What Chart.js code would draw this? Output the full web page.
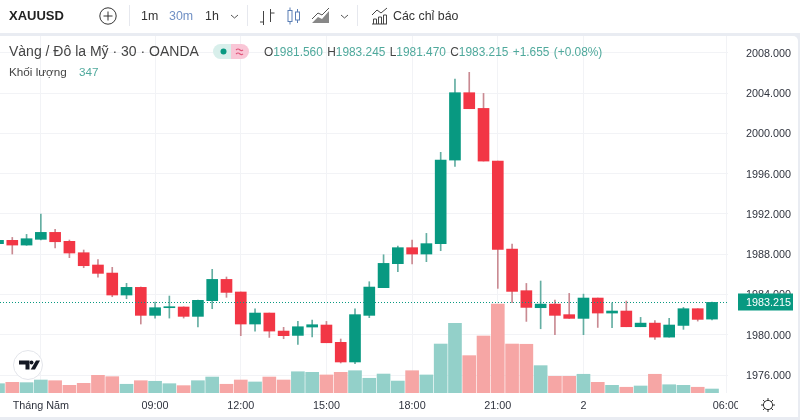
<!DOCTYPE html>
<html>
<head>
<meta charset="utf-8">
<script src="https://cdn.jsdelivr.net/npm/chart.js@4/dist/chart.umd.min.js"></script>
<style>
  html, body { margin: 0; padding: 0; width: 800px; height: 420px; overflow: hidden; background: #e9ecf2; font-family: "Liberation Sans", sans-serif; color: #333; }
  #toolbar { position: absolute; left: 0; top: 0; width: 800px; height: 33px; background: #fff; }
  #card { position: absolute; left: 0; top: 36px; width: 798px; height: 381px; background: #fff; border-radius: 0 5px 5px 0; }
  canvas { position: absolute; left: 0; top: 0; }
  .t { position: absolute; white-space: nowrap; line-height: 16px; }
  .sep { position: absolute; top: 5px; width: 1px; height: 21px; background: #e6e8ee; }
  svg { position: absolute; overflow: visible; }
  .g { color: #4fa99c; }
  #corner { position: absolute; left: 738px; top: 394px; width: 60px; height: 23px; background: #fff; }
</style>
</head>
<body>
<div id="toolbar"></div>
<div id="card"></div>
<canvas id="chart" width="800" height="420"></canvas>
<div id="corner"></div>

<!-- toolbar -->
<div class="t" style="left:9px;top:8px;font-size:13px;font-weight:bold;color:#222">XAUUSD</div>
<svg style="left:99px;top:7px" width="18" height="18" fill="none" stroke="#333" stroke-width="1"><circle cx="9" cy="9" r="8.2"/><path d="M9 4.5v9M4.5 9h9"/></svg>
<div class="sep" style="left:129px"></div>
<div class="t" style="left:141px;top:8px;font-size:12.4px">1m</div>
<div class="t" style="left:169px;top:8px;font-size:12.4px;color:#6f8fc4">30m</div>
<div class="t" style="left:205px;top:8px;font-size:12.4px">1h</div>
<svg style="left:230px;top:14px" width="9" height="5" fill="none" stroke="#555"><path d="M1 1l3.5 3L8 1"/></svg>
<div class="sep" style="left:247px"></div>
<svg style="left:259px;top:8px" width="16" height="17" fill="none" stroke="#444"><path d="M4.5 3v14M1 14h3.5M11.5 1v13M11.5 5h4"/></svg>
<svg style="left:287px;top:7px" width="14" height="18" fill="none" stroke="#5b7fb5"><rect x="1" y="3.5" width="4" height="11"/><path d="M3 0.5v3M3 14.5v3M10.5 2v3M10.5 13v3"/><rect x="8.5" y="5" width="4" height="8"/></svg>
<svg style="left:312px;top:8px" width="18" height="16"><path d="M0 15L6 9l4 2 7-8v12z" fill="#888"/><path d="M0 11L6 5l4 2 7-7" fill="none" stroke="#555"/></svg>
<svg style="left:340px;top:14px" width="9" height="5" fill="none" stroke="#555"><path d="M1 1l3.5 3L8 1"/></svg>
<div class="sep" style="left:357px"></div>
<svg style="left:371px;top:7px" width="17" height="18" fill="none" stroke="#444"><path d="M1 17h15M2.5 17v-5h3v5M7.5 17v-7h3v7M12.5 17v-9h3v9M1 8l5-5 4 3 6-5"/></svg>
<div class="t" style="left:393px;top:8px;font-size:12.4px">Các chỉ báo</div>

<!-- legend -->
<div class="t" id="title" style="left:9px;top:43px;font-size:14px;color:#444"></div>
<svg style="left:213px;top:44px" width="36" height="15"><path d="M7.5 0H18V15H7.5a7.5 7.5 0 0 1 0-15z" fill="#d8efeb"/><path d="M18 0H28.5a7.5 7.5 0 0 1 0 15H18z" fill="#f9c6d6"/><circle cx="10.5" cy="7.5" r="3" fill="#089981"/><path d="M23 6c1.5-1.5 3-1 4 0s2 .8 3-.2M23 10c1.5-1.5 3-1 4 0s2 .8 3-.2" fill="none" stroke="#e0557a" stroke-width="1.1"/></svg>
<div class="t" id="ohlc" style="left:264px;top:44px;font-size:11.9px;color:#444;word-spacing:1px"></div>
<div class="t" style="left:9px;top:64px;font-size:11.7px;color:#444">Khối lượng</div>
<div class="t g" id="volNow" style="left:79px;top:64px;font-size:11.7px"></div>

<!-- logo and gear -->
<svg style="left:13px;top:350px" width="30" height="30"><circle cx="15" cy="15" r="14.5" fill="#fff" stroke="#e3e5ea"/><path d="M6 10.5h10.5v9H12.5v-5H6z" fill="#131722"/><circle cx="18.5" cy="12.6" r="2" fill="#131722"/><path d="M23 10.5h4l-5 9h-4.3z" fill="#131722"/></svg>
<svg style="left:760px;top:397px" width="16" height="16" fill="none" stroke="#333"><circle cx="8" cy="8" r="4.6"/><path d="M8 1v2.4M8 12.6V15M1 8h2.4M12.6 8H15M3 3l1.8 1.8M11.2 11.2L13 13M13 3l-1.8 1.8M4.8 11.2L3 13"/></svg>

<script>
const titleText = "Vàng / Đô la Mỹ · 30 · OANDA";
const volumeNow = 347;
const changeText = "+1.655 (+0.08%)";

// 30 minute candles
const opens = [1989.05,1989.38,1988.91,1989.48,1990.17,1989.28,1988.15,1986.93,1986.13,1983.95,1984.71,1981.93,1982.69,1982.76,1981.83,1983.39,1985.50,1984.25,1981.07,1982.16,1980.37,1979.94,1980.77,1980.97,1979.25,1977.30,1981.93,1984.68,1987.06,1988.65,1988.02,1989.05,1997.35,2004.04,2002.48,1997.25,1988.51,1984.38,1982.69,1983.05,1982.00,1981.63,1983.65,1982.16,1982.36,1980.80,1981.16,1979.77,1980.93,1982.59,1981.56];
const highs = [1989.50,1989.67,1989.97,1991.99,1990.47,1989.41,1988.42,1987.46,1986.70,1985.11,1984.75,1983.25,1983.85,1982.78,1983.44,1986.50,1985.74,1984.25,1982.59,1982.16,1980.74,1981.33,1981.46,1981.33,1979.58,1982.59,1985.27,1987.95,1988.81,1989.41,1990.07,1998.12,2005.40,2006.06,2003.97,1997.25,1989.01,1985.10,1985.34,1983.45,1984.11,1984.04,1983.65,1983.18,1983.35,1981.73,1981.40,1981.63,1982.72,1982.59,1983.245];
const lows = [1988.90,1988.02,1988.88,1989.41,1988.62,1987.66,1986.66,1985.73,1983.78,1983.58,1981.07,1981.66,1981.66,1981.66,1980.77,1982.59,1983.72,1979.91,1980.37,1979.74,1979.61,1979.05,1979.78,1979.21,1977.20,1977.13,1981.70,1984.68,1986.27,1987.03,1987.26,1988.35,1996.73,2002.45,1997.25,1984.61,1983.18,1981.33,1980.60,1980.01,1981.63,1980.01,1980.73,1980.70,1980.80,1980.80,1979.54,1979.77,1980.54,1981.36,1981.47];
const closes = [1989.38,1988.91,1989.54,1990.17,1989.24,1988.12,1986.86,1986.10,1983.95,1984.71,1981.93,1982.69,1982.79,1981.83,1983.42,1985.50,1984.21,1981.07,1982.16,1980.37,1979.91,1980.80,1981.00,1979.21,1977.30,1982.00,1984.74,1987.09,1988.65,1988.02,1989.05,1997.35,2004.04,2002.45,1997.25,1988.48,1984.31,1982.72,1983.05,1981.93,1981.63,1983.65,1982.16,1982.36,1980.80,1981.16,1979.77,1980.97,1982.59,1981.53,1983.215];
const volumes = [810,930,900,1130,1070,670,840,1540,1420,760,1070,1020,810,640,1070,1390,760,1130,960,1390,1130,1850,1800,1570,1800,1940,1280,1650,1040,1940,1570,4260,6060,3250,4960,7740,4260,4240,2380,1450,1450,1630,930,670,500,610,1630,720,670,500,347];

const priceTicks = [1976,1980,1984,1988,1992,1996,2000,2004,2008];
const timeTickBars = [3,11,17,23,29,35,41,51];
const timeTickLabels = ["Tháng Năm","09:00","12:00","15:00","18:00","21:00","2","06:00"];

const upColor = "#089981", downColor = "#f23645";
const upWick = "#64aea2", downWick = "#c98a92";
const upVol = "#93d0c9", downVol = "#f6a6a5";

const bars = opens.map((o, i) => i);
const isUp = i => closes[i] >= opens[i];
const last = closes.length - 1;

document.getElementById("title").textContent = titleText;
document.getElementById("volNow").textContent = volumeNow;
document.getElementById("ohlc").innerHTML =
  `O<span class="g">${opens[last].toFixed(3)}</span> H<span class="g">${highs[last].toFixed(3)}</span> ` +
  `L<span class="g">${lows[last].toFixed(3)}</span> C<span class="g">${closes[last].toFixed(3)}</span> <span class="g">${changeText}</span>`;

// dotted last price line and its tag on the price axis
const lastPricePlugin = {
  id: "lastPrice",
  afterDatasetsDraw(chart) {
    const { ctx, chartArea, scales } = chart;
    const y = Math.round(scales.y.getPixelForValue(closes[last])) + 0.5;
    ctx.save();
    ctx.strokeStyle = upColor;
    ctx.lineWidth = 1;
    ctx.setLineDash([1, 2]);
    ctx.beginPath();
    ctx.moveTo(chartArea.left, y);
    ctx.lineTo(chartArea.right, y);
    ctx.stroke();
    ctx.fillStyle = upColor;
    ctx.fillRect(chartArea.right + 10, y - 9, 55, 17);
    ctx.fillStyle = "#fff";
    ctx.font = "10.8px 'Liberation Sans'";
    ctx.textBaseline = "middle";
    ctx.fillText(closes[last].toFixed(3), chartArea.right + 18, y + 0.5);
    ctx.restore();
  }
};

new Chart(document.getElementById("chart").getContext("2d"), {
  type: "bar",
  data: {
    datasets: [
      {
        label: "Nến",
        data: bars.map(i => ({ x: i, y: [opens[i], closes[i]] })),
        backgroundColor: bars.map(i => isUp(i) ? upColor : downColor),
        barThickness: 11,
        yAxisID: "y",
        order: 1
      },
      {
        label: "Bấc",
        data: bars.map(i => ({ x: i, y: [lows[i], highs[i]] })),
        backgroundColor: bars.map(i => isUp(i) ? upWick : downWick),
        barThickness: 1,
        yAxisID: "y",
        order: 2
      },
      {
        label: "Khối lượng",
        data: bars.map(i => ({ x: i, y: volumes[i] })),
        backgroundColor: bars.map(i => isUp(i) ? upVol : downVol),
        barThickness: 13,
        yAxisID: "vol",
        order: 3
      }
    ]
  },
  options: {
    responsive: false,
    animation: false,
    grouped: false,
    layout: { padding: { top: 36, bottom: 5, left: 0, right: 0 } },
    plugins: { legend: { display: false }, tooltip: { enabled: false } },
    scales: {
      x: {
        type: "linear",
        offset: false,
        min: 0.14,
        max: 51.12,
        border: { display: false },
        grid: { offset: false, color: "#f2f3f6", drawTicks: false },
        afterBuildTicks: s => { s.ticks = timeTickBars.map(v => ({ value: v })); },
        afterFit: s => { s.height = 22; },
        ticks: {
          autoSkip: false,
          maxRotation: 0,
          padding: 7,
          color: "#2f333e",
          font: { family: "Liberation Sans", size: 10.8 },
          callback: v => timeTickLabels[timeTickBars.indexOf(v)]
        }
      },
      y: {
        position: "right",
        min: 1974.22,
        max: 2009.67,
        border: { display: false },
        grid: { color: "#f2f3f6", drawTicks: false },
        afterBuildTicks: s => { s.ticks = priceTicks.map(v => ({ value: v })); },
        afterFit: s => { s.width = 72; },
        ticks: {
          padding: 18,
          labelOffset: 1,
          color: "#2f333e",
          font: { family: "Liberation Sans", size: 10.8 },
          callback: v => v.toFixed(3)
        }
      },
      vol: {
        display: false,
        position: "left",
        min: 0,
        max: 31059
      }
    }
  },
  plugins: [lastPricePlugin]
});
</script>
</body>
</html>
